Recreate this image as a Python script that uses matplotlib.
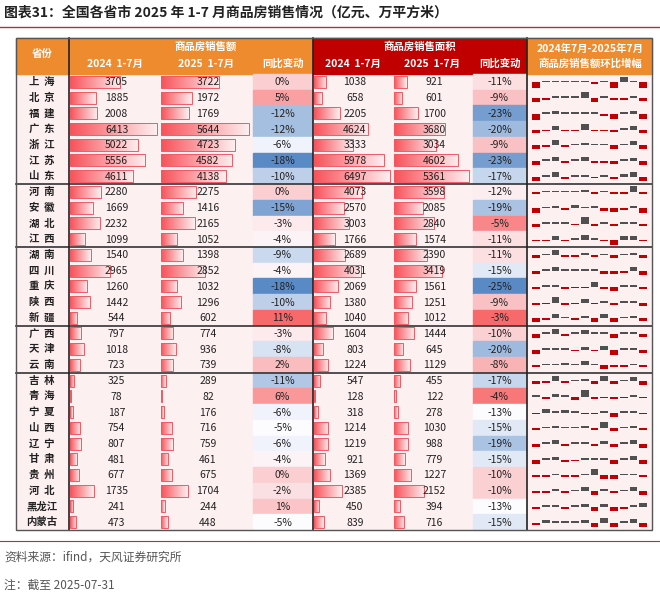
import numpy as np
import matplotlib.pyplot as plt
from matplotlib.patches import Rectangle
from matplotlib.colors import LinearSegmentedColormap, to_rgb

plt.rcParams['font.family'] = ['Noto Sans CJK SC', 'DejaVu Sans']

provinces = ['上海', '北京', '福建', '广东', '浙江', '江苏', '山东',
             '河南', '安徽', '湖北', '江西',
             '湖南', '四川', '重庆', '陕西', '新疆',
             '广西', '天津', '云南',
             '吉林', '青海', '宁夏', '山西', '辽宁', '甘肃', '贵州', '河北', '黑龙江', '内蒙古']
group_ends = [7, 11, 16, 19]

sales_2024 = [3705, 1885, 2008, 6413, 5022, 5556, 4611, 2280, 1669, 2232, 1099, 1540, 2965, 1260, 1442,
              544, 797, 1018, 723, 325, 78, 187, 754, 807, 481, 677, 1735, 241, 473]
sales_2025 = [3722, 1972, 1769, 5644, 4723, 4582, 4138, 2275, 1416, 2165, 1052, 1398, 2852, 1032, 1296,
              602, 774, 936, 739, 289, 82, 176, 716, 759, 461, 675, 1704, 244, 448]
sales_yoy = [0, 5, -12, -12, -6, -18, -10, 0, -15, -3, -4, -9, -4, -18, -10,
             11, -3, -8, 2, -11, 6, -6, -5, -6, -4, 0, -2, 1, -5]
area_2024 = [1038, 658, 2205, 4624, 3333, 5978, 6497, 4073, 2570, 3003, 1766, 2689, 4031, 2069, 1380,
             1040, 1604, 803, 1224, 547, 128, 318, 1214, 1219, 921, 1369, 2385, 450, 839]
area_2025 = [921, 601, 1700, 3680, 3034, 4602, 5361, 3598, 2085, 2840, 1574, 2390, 3419, 1561, 1251,
             1012, 1444, 645, 1129, 455, 122, 278, 1030, 988, 779, 1227, 2152, 394, 716]
area_yoy = [-11, -9, -23, -20, -9, -23, -17, -12, -19, -5, -11, -11, -15, -25, -9,
            -3, -10, -20, -8, -17, -4, -13, -15, -19, -15, -10, -10, -13, -15]

# month-on-month sales change, 2024-07 .. 2025-07 (rough relative magnitudes)
mom = [
    [-2, .5, .3, .3, .3, .5, -.3, .3, -2, 2, .3, -2],
    [-1.5, -.3, .5, .7, .5, 2.5, -1.5, .5, -.3, -.3, .7, -1],
    [-2.5, .3, 1, .3, .7, .8, .8, -.7, -2, .7, 1, -2],
    [-1.5, -.5, 1.5, -.5, -.7, 2, -.7, -.5, -1, .3, 1.5, -1.5],
    [-1.5, -.5, 2, -.8, .3, .7, .3, .3, -1.5, .3, 1.8, -1.5],
    [-1.5, .5, 1.5, -.7, .5, 1.5, -.8, -.3, -1, .8, 1, -1.5],
    [-1.5, .5, 2, -.8, .5, .7, -.3, .5, -1, 1, 2, -1.5],
    [-.7, .5, .5, .5, .5, 1, -.3, .5, -.5, -.3, 2.5, -.7],
    [-2, .3, .7, -.8, 1.2, .3, .8, -1.2, -1.5, -.5, .7, -1.8],
    [-1.2, .3, .7, .3, -.5, 2.5, -.8, .3, -1, .3, .8, -1],
    [-.3, -.3, 1.5, -.7, .5, 1.8, .7, -.7, -2, 1.5, 1.3, -.7],
    [-1.2, .3, 2, -.8, -.7, .8, -.5, .3, -1, .3, .8, -1.2],
    [-1, .5, 1.5, .5, .5, .5, .7, -1, -1, -.3, 1.5, -1.5],
    [-.8, .3, .3, -.8, -.5, -.5, 2, -.7, -1.5, .3, .8, -.8],
    [-.8, -.5, 2, -.8, -.5, 1.5, -.5, .3, -.8, .3, .7, -1.2],
    [-1.5, -.5, 1.8, .3, -.5, .8, -1.5, 1.5, -1.5, .3, .7, -1],
    [-1.5, .3, 1.8, -.7, .3, 1.5, .3, .5, -1.5, .8, .8, -1],
    [-1.5, .3, .8, .7, -.7, 1.2, -.5, 1.5, -2.2, .3, .8, -1.2],
    [-.5, .3, .3, 1, .3, 1.5, .7, -1.5, -.5, -.5, .3, -.5],
    [-1, -.7, 1.8, -.7, .3, .8, -1, 1.8, -1, .3, 1.5, -1.5],
    [.8, -.8, 1.2, .3, -1.2, 2.5, -.7, -.5, -.7, -.5, .8, -.5],
    [-.3, 1.5, .3, 1, .7, -.3, -.3, .7, -1.8, .7, .7, -.3],
    [-.5, .5, .7, .3, .5, .7, -.7, 2.5, -1, .5, 1, -.5],
    [-1, .3, 1.5, -.8, .3, .3, -.5, 1, -1, .3, 1.5, -1.5],
    [-1.5, .5, 1.2, -.8, -.3, .7, .3, .3, -1.5, .5, 1.3, -1.5],
    [-.5, -.5, .3, -.5, -.5, .3, 2.5, -1.2, -1.2, .3, .3, -.5],
    [-.8, -.8, .8, -.7, .3, 1.5, -1.5, 1, -.8, .3, 1.5, -1.5],
    [-.3, .7, .7, -.8, .5, 1.2, -1.5, 1.2, -1.5, -.3, .3, 1.5],
    [-1, 1.2, .3, .5, .5, 1, -1.5, 1.8, -1.5, .5, 1.5, -1.5],
]

ORANGE = '#EE8B2E'
DARKRED = '#C00000'
ROWBG = '#FDF0F1'

fig = plt.figure(figsize=(6.6, 5.96), dpi=100)
ax = fig.add_axes([0, 0, 1, 1])
ax.set_xlim(0, 660)
ax.set_ylim(596, 0)
ax.axis('off')

# title & footer
ax.text(4, 13, '图表31：全国各省市 2025 年 1-7 月商品房销售情况（亿元、万平方米）',
        fontsize=10, fontweight='bold', va='center', color='#222222')
ax.plot([0, 660], [27, 27], color='#B0303A', lw=1)
ax.plot([0, 660], [541, 541], color='#B0303A', lw=0.8)
ax.text(4, 557, '资料来源：ifind，天风证券研究所', fontsize=8.5, va='center', color='#555555')
ax.text(4, 585, '注：截至 2025-07-31', fontsize=8.5, va='center', color='#555555')

top, head_h = 38, 36
n = len(provinces)
row_h = (530 - top - head_h) / n
y0 = top + head_h

cols = {'prov': (16, 69), 's24': (69, 160), 's25': (160, 252), 'syoy': (252, 313),
        'a24': (313, 393), 'a25': (393, 472), 'ayoy': (472, 527), 'spark': (527, 652)}

# header
ax.add_patch(Rectangle((16, top), 297, head_h, color=ORANGE))
ax.add_patch(Rectangle((313, top), 214, head_h, color=DARKRED))
ax.add_patch(Rectangle((527, top), 125, head_h, color=ORANGE))
hk = dict(color='white', fontsize=7.5, fontweight='bold', ha='center', va='center')
ax.text(42, top + 16, '省份', **hk)
ax.text(206, top + 9, '商品房销售额', **hk)
ax.text(420, top + 9, '商品房销售面积', **hk)
for key, lab in [('s24', '2024  1-7月'), ('s25', '2025  1-7月'), ('syoy', '同比变动'),
                 ('a24', '2024  1-7月'), ('a25', '2025  1-7月'), ('ayoy', '同比变动')]:
    a, b = cols[key]
    ax.text((a + b) / 2, top + 26, lab, **hk)
ax.text(590, top + 11, '2024年7月-2025年7月', **hk)
ax.text(590, top + 25, '商品房销售额环比增幅', **hk)

ax.add_patch(Rectangle((16, y0), 636, n * row_h, color=ROWBG, zorder=0))

grad = np.linspace(0, 1, 64).reshape(1, -1)
bar_cmap = LinearSegmentedColormap.from_list('b', ['#F8525A', '#FDEEEF'])


def draw_bars(key, vals):
    a, b = cols[key]
    w = (b - a - 4)
    vmax = max(vals)
    for i, v in enumerate(vals):
        yc = y0 + (i + 0.5) * row_h
        bw = w * v / vmax
        ax.imshow(grad, cmap=bar_cmap, extent=(a + 1, a + 1 + bw, yc + 6, yc - 6),
                  aspect='auto', zorder=2, interpolation='bilinear')
        ax.add_patch(Rectangle((a + 1, yc - 6), bw, 12, fill=False, ec='#F05A63', lw=0.7, zorder=3))
        ax.text((a + b) / 2 + 2, yc + 0.5, str(v), fontsize=7.5, ha='center', va='center',
                color='#222222', zorder=4)


def yoy_colour(v, vals):
    lo, hi, mid = min(vals), max(vals), np.percentile(vals, 50)
    blue, white, red = np.array(to_rgb('#5A8AC6')), np.array(to_rgb('#FCFCFF')), np.array(to_rgb('#F8696B'))
    if v <= mid:
        t = (mid - v) / (mid - lo) if mid > lo else 0
        return white + (blue - white) * t
    t = (v - mid) / (hi - mid) if hi > mid else 0
    return white + (red - white) * t


def draw_yoy(key, vals):
    a, b = cols[key]
    for i, v in enumerate(vals):
        yc = y0 + (i + 0.5) * row_h
        ax.add_patch(Rectangle((a + 1, yc - row_h / 2), b - a - 2, row_h, color=yoy_colour(v, vals), zorder=1))
        ax.text((a + b) / 2, yc + 0.5, f'{v}%', fontsize=7.5, ha='center', va='center', color='#222222', zorder=4)


draw_bars('s24', sales_2024)
draw_bars('s25', sales_2025)
draw_yoy('syoy', sales_yoy)
draw_bars('a24', area_2024)
draw_bars('a25', area_2025)
draw_yoy('ayoy', area_yoy)

for i, p in enumerate(provinces):
    yc = y0 + (i + 0.5) * row_h
    ax.text(42, yc, '  '.join(p) if len(p) == 2 else p, fontsize=7.5, ha='center', va='center',
            color='#222222', fontweight='bold')
    # win/loss sparkline
    a, b = cols['spark']
    step = (b - a - 8) / 12
    for j, m in enumerate(mom[i]):
        x = a + 4 + j * step + 1
        h = max(abs(m) * 2.6, 1.6)
        if m >= 0:
            ax.add_patch(Rectangle((x, yc - h + 0.5), step - 2, h, color='#505050', lw=0, zorder=3))
        else:
            ax.add_patch(Rectangle((x, yc + 0.5), step - 2, h, color='#C00000', lw=0, zorder=3))

for g in group_ends:
    yy = y0 + g * row_h
    ax.plot([16, 652], [yy, yy], color='#333333', lw=1.2, zorder=5)
for xx in (69, 313, 527):
    ax.plot([xx, xx], [top, y0 + n * row_h], color='#222222', lw=1.2, zorder=5)
ax.add_patch(Rectangle((16, top), 636, head_h + n * row_h, fill=False, ec='#555555', lw=1, zorder=5))

fig.savefig('out.png', dpi=100)
